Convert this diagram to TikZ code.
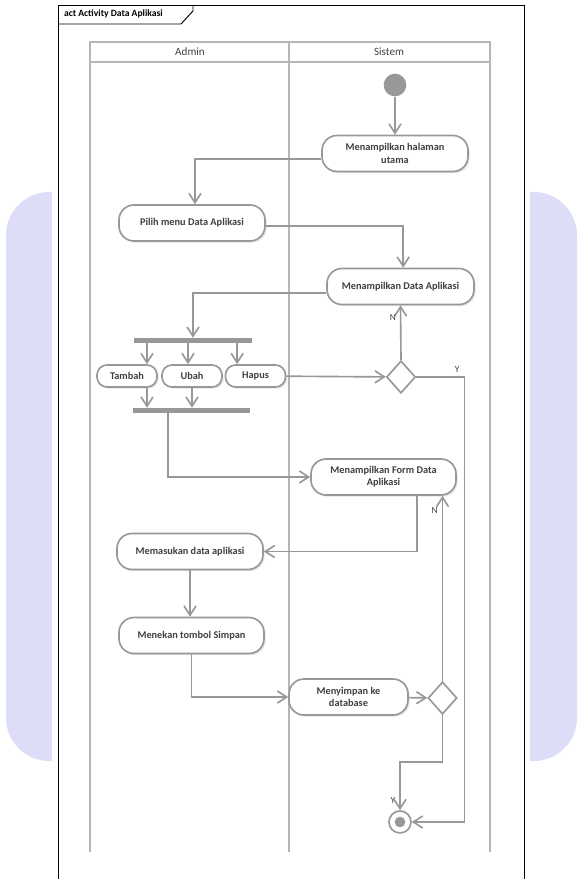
\documentclass[tikz,border=0pt]{standalone}
\usepackage{fontspec}
\setmainfont{Carlito}
\usepackage{tikz}
\usepackage{xcolor}
\usetikzlibrary{shapes,shapes.geometric,arrows.meta,positioning,shadows}
\definecolor{lanegray}{RGB}{182,182,182}
\definecolor{umlgray}{RGB}{152,152,152}
\definecolor{txtgray}{RGB}{64,64,64}
\definecolor{lavender}{RGB}{221,221,247}
\tikzstyle{line} = [draw=umlgray, line width=1.4pt, -{Straight Barb[length=2.8mm,width=3.6mm]}]

\begin{document}
\begin{tikzpicture}[x=0.03cm, y=-0.03cm, text=txtgray, font=\fontsize{8.8}{10.5}\selectfont\bfseries,
        action/.style={rectangle, draw=umlgray, line width=1.4pt, fill=white, rounded corners=0.45cm, align=center, minimum width=4.38cm, minimum height=1.08cm, inner sep=2pt, drop shadow={opacity=0.2, shadow xshift=0.05cm, shadow yshift=-0.05cm}},
        small/.style={action, minimum width=1.8cm, minimum height=0.66cm, rounded corners=0.3cm},
        bar/.style={rectangle, fill=umlgray, draw=none, minimum width=3.54cm, minimum height=0.15cm, inner sep=0pt},
        decision/.style={diamond, draw=umlgray, line width=1.4pt, fill=white, minimum width=0.87cm, minimum height=0.97cm, inner sep=0pt},
        guard/.style={font=\fontsize{8}{9}\selectfont\mdseries}]
        \useasboundingbox (0,0) rectangle (583,879);
        % background
        \fill[lavender, rounded corners=1.3cm] (6,192) rectangle (577,761);
        \fill[white] (52,150) rectangle (530,879);
        % frame
        \draw[black, line width=0.8pt] (58,879) -- (58,5) -- (524,5) -- (524,879);
        \draw[black, line width=0.8pt] (58,24) -- (181,24) -- (193,11) -- (193,5);
        \node[anchor=west, text=black, font=\fontsize{8.2}{9.5}\selectfont\bfseries] (title) at (60,14) {act Activity Data Aplikasi};
        % swimlanes
        \draw[lanegray, line width=2.2pt] (90,852) -- (90,42) -- (490,42) -- (490,852);
        \draw[lanegray, line width=2.2pt] (90,62) -- (490,62);
        \draw[lanegray, line width=2.2pt] (289,42) -- (289,852);
        \node[font=\fontsize{9.5}{11}\selectfont\mdseries] (adminlbl) at (190,52) {Admin};
        \node[font=\fontsize{9.5}{11}\selectfont\mdseries] (sistemlbl) at (389,52) {Sistem};

        \node[circle, fill=umlgray, minimum size=0.68cm, inner sep=0pt] (start) at (395,85) {};
        \node[action] (halaman) at (395,153.5) {Menampilkan halaman\\utama};
        \node[action] (pilih) at (192,223) {Pilih menu Data Aplikasi};
        \node[action, minimum width=4.41cm] (tampil) at (400.5,286.5) {Menampilkan Data Aplikasi};
        \node[bar] (fork) at (193,340.5) {};
        \node[small] (tambah) at (127,376) {Tambah};
        \node[small] (ubah) at (192,376) {Ubah};
        \node[small] (hapus) at (255.5,376) {Hapus};
        \node[bar, minimum width=3.51cm] (join) at (191.5,410.5) {};
        \node[decision] (dec1) at (401,377) {};
        \node[action, minimum width=4.35cm] (form) at (383.5,477) {Menampilkan Form Data\\Aplikasi};
        \node[action] (masuk) at (190,551.5) {Memasukan data aplikasi};
        \node[action, minimum width=4.35cm] (simpan) at (191.5,635.5) {Menekan tombol Simpan};
        \node[action, minimum width=3.57cm] (menyimpan) at (348.5,697) {Menyimpan ke\\database};
        \node[decision] (dec2) at (442.5,698) {};
        \node[circle, draw=umlgray, line width=1.4pt, fill=white, minimum size=0.66cm, inner sep=0pt] (end) at (400,822) {};
        \fill[umlgray] (end.center) circle (0.16cm);

        \path [line] (start) -- (halaman);
        \path [line] ([yshift=-0.17cm]halaman.west) -| ([xshift=0.09cm]pilih.north);
        \path [line] ([yshift=-0.09cm]pilih.east) -| ([xshift=0.08cm]tampil.north);
        \path [line] ([yshift=-0.2cm]tampil.west) -| (fork.north);
        \path [line] ([xshift=0.6cm]tambah.north |- fork.south) -- ([xshift=0.6cm]tambah.north);
        \path [line] ([xshift=-0.12cm]ubah.north |- fork.south) -- ([xshift=-0.12cm]ubah.north);
        \path [line] ([xshift=-0.55cm]hapus.north |- fork.south) -- ([xshift=-0.55cm]hapus.north);
        \path [line] ([xshift=0.6cm]tambah.south) -- ([xshift=0.6cm]tambah.south |- join.north);
        \path [line] (ubah.south) -- (ubah.south |- join.north);
        \path [line] (hapus) -- (dec1);
        \path [line] (dec1.north) -- (tampil.south) node[guard, left, pos=0.78] {N};
        \path [line] (dec1.east) -- ++(48,0) node[guard, above, pos=0.85] {Y} |- (end.east);
        \path [line] ([xshift=-0.7cm]join.south) |- (form.west);
        \path [line] ([xshift=1cm]form.south) |- (masuk.east);
        \path [line] (dec2.north) -- (dec2.north |- form.south) node[guard, left, pos=0.92] {N};
        \path [line] (masuk.south) -- (masuk.south |- simpan.north);
        \path [line] (simpan.south) |- (menyimpan.west);
        \path [line] (menyimpan) -- (dec2);
        \path [line] (dec2.south) -- ++(0,47) -| (end.north) node[guard, left, pos=0.9] {Y};
    \end{tikzpicture}
\end{document}
